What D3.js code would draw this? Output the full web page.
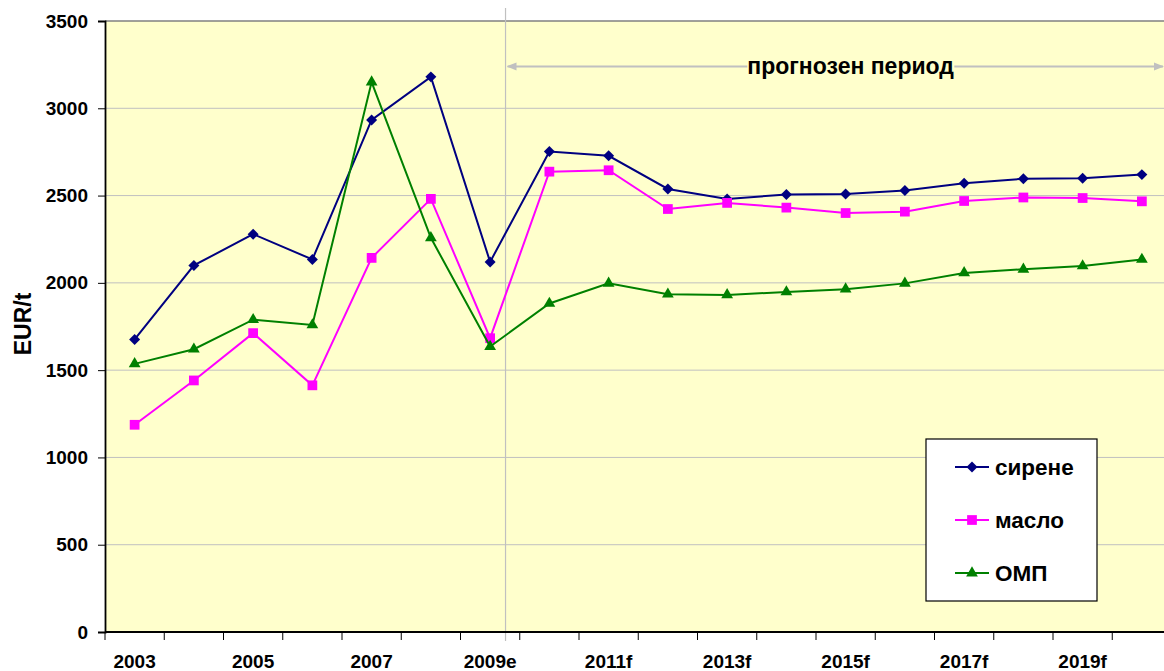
<!DOCTYPE html>
<html>
<head>
<meta charset="utf-8">
<script src="https://cdn.jsdelivr.net/npm/d3@7"></script>
<style>
  body { margin: 0; background: #fff; overflow: hidden; }
  text { font-family: "Liberation Sans", Arial, sans-serif; font-weight: bold; }
</style>
</head>
<body>
<div id="chart"></div>
<script>
// data
const categories = ["2003", "2004", "2005", "2006", "2007", "2008", "2009e", "2010f", "2011f",
  "2012f", "2013f", "2014f", "2015f", "2016f", "2017f", "2018f", "2019f", "2020f"];
const shownLabels = ["2003", "2005", "2007", "2009e", "2011f", "2013f", "2015f", "2017f", "2019f"];

const sirene = [1676, 2100, 2279, 2134, 2933, 3180, 2120, 2752, 2728, 2538, 2481, 2506,
  2509, 2529, 2571, 2596, 2599, 2620];
const maslo = [1187, 1441, 1712, 1413, 2143, 2481, 1683, 2637, 2645, 2423, 2458, 2431,
  2400, 2408, 2469, 2489, 2486, 2467];
const omp = [1536, 1620, 1789, 1759, 3150, 2258, 1635, 1882, 1997, 1935, 1931, 1948,
  1964, 1997, 2057, 2078, 2097, 2134];

const yTicks = [0, 500, 1000, 1500, 2000, 2500, 3000, 3500];
const seriesNames = ["сирене", "масло", "ОМП"];
const forecastLabel = "прогнозен период";

// layout
const width = 1164, height = 671;
const plotLeft = 105, plotTop = 21, plotBottom = 632;
const plotRight = plotLeft + categories.length * 59.25;   // runs past the window edge
const bg = "#FFFFCC";

const svg = d3.select("#chart").append("svg")
  .attr("width", width)
  .attr("height", height);

const x = d3.scaleBand().domain(categories).range([plotLeft, plotRight]);
const y = d3.scaleLinear().domain([0, 3500]).range([plotBottom, plotTop]);

// diamond = square turned 45 degrees
const series = [
  { name: seriesNames[0], values: sirene, color: "#000080", shape: d3.symbolSquare, size: 60, rot: 45 },
  { name: seriesNames[1], values: maslo, color: "#FF00FF", shape: d3.symbolSquare, size: 95, rot: 0 },
  { name: seriesNames[2], values: omp, color: "#008000", shape: d3.symbolTriangle, size: 60, rot: 0 }
];

// plot background
svg.append("rect")
  .attr("x", plotLeft).attr("y", plotTop)
  .attr("width", plotRight - plotLeft).attr("height", plotBottom - plotTop)
  .attr("fill", bg);

// gridlines
svg.append("g")
  .selectAll("line")
  .data(yTicks.filter(d => d > 0 && d < 3500))
  .join("line")
  .attr("x1", plotLeft).attr("x2", plotRight)
  .attr("y1", d => y(d)).attr("y2", d => y(d))
  .attr("stroke", "#C0C0C0")
  .attr("stroke-width", 1);

// top border
svg.append("line")
  .attr("x1", plotLeft).attr("x2", plotRight)
  .attr("y1", y(3500)).attr("y2", y(3500))
  .attr("stroke", "#808080").attr("stroke-width", 1.5);

// forecast separator and arrow
const sepX = x("2009e") + x.bandwidth() * 0.76;
svg.append("line")
  .attr("x1", sepX).attr("x2", sepX)
  .attr("y1", 8).attr("y2", plotBottom + 9)
  .attr("stroke", "#C0C0C0").attr("stroke-width", 1.2);

const defs = svg.append("defs");
defs.append("marker")
  .attr("id", "arr")
  .attr("viewBox", "0 0 10 10")
  .attr("refX", 9).attr("refY", 5)
  .attr("markerWidth", 5).attr("markerHeight", 5)
  .attr("orient", "auto-start-reverse")
  .append("path")
  .attr("d", "M0,1 L10,5 L0,9 Z")
  .attr("fill", "#C0C0C0");

const arrowY = y(3240);
svg.append("line")
  .attr("x1", sepX + 2).attr("x2", width - 1)
  .attr("y1", arrowY).attr("y2", arrowY)
  .attr("stroke", "#C0C0C0").attr("stroke-width", 2)
  .attr("marker-start", "url(#arr)")
  .attr("marker-end", "url(#arr)");

const labelX = x("2015f") + x.bandwidth() / 2 + 5;
const labelBg = svg.append("rect").attr("fill", bg);
const fl = svg.append("text")
  .attr("x", labelX).attr("y", arrowY)
  .attr("dy", "0.35em")
  .attr("text-anchor", "middle")
  .attr("font-size", 23)
  .attr("fill", "#000")
  .text(forecastLabel);
const bb = fl.node().getBBox();
labelBg
  .attr("x", bb.x).attr("y", bb.y)
  .attr("width", bb.width).attr("height", bb.height);

// y axis
const yAxis = svg.append("g")
  .attr("transform", `translate(${plotLeft},0)`)
  .call(d3.axisLeft(y).tickValues(yTicks).tickFormat(d3.format("d"))
    .tickSize(7).tickPadding(10));
yAxis.select(".domain").attr("stroke", "#000").attr("stroke-width", 1.8);
yAxis.selectAll(".tick line").attr("stroke", "#000");
yAxis.selectAll("text")
  .attr("font-size", 19)
  .attr("font-family", "'Liberation Sans', Arial, sans-serif")
  .attr("font-weight", "bold")
  .attr("fill", "#000");

// x axis
const xAxis = svg.append("g")
  .attr("transform", `translate(0,${plotBottom})`)
  .call(d3.axisBottom(x).tickSize(0).tickPadding(23)
    .tickFormat(d => shownLabels.includes(d) ? d : ""));
xAxis.select(".domain").remove();
xAxis.selectAll("text")
  .attr("font-size", 19)
  .attr("font-family", "'Liberation Sans', Arial, sans-serif")
  .attr("font-weight", "bold")
  .attr("fill", "#000");

svg.append("line")
  .attr("x1", plotLeft).attr("x2", plotRight)
  .attr("y1", plotBottom).attr("y2", plotBottom)
  .attr("stroke", "#000").attr("stroke-width", 1.8);

svg.append("g")
  .selectAll("line")
  .data(categories.map(c => x(c)).concat([plotRight]))
  .join("line")
  .attr("x1", d => d).attr("x2", d => d)
  .attr("y1", plotBottom).attr("y2", plotBottom + 8)
  .attr("stroke", "#000");

// axis title
svg.append("text")
  .attr("transform", "translate(31,324) rotate(-90)")
  .attr("text-anchor", "middle")
  .attr("font-size", 23)
  .text("EUR/t");

// lines and markers
const line = d3.line()
  .x((d, i) => x(categories[i]) + x.bandwidth() / 2)
  .y(d => y(d));

series.forEach(s => {
  svg.append("path")
    .datum(s.values)
    .attr("d", line)
    .attr("fill", "none")
    .attr("stroke", s.color)
    .attr("stroke-width", 2);

  svg.append("g")
    .selectAll("path")
    .data(s.values)
    .join("path")
    .attr("transform", (d, i) =>
      `translate(${x(categories[i]) + x.bandwidth() / 2},${y(d)}) rotate(${s.rot})`)
    .attr("d", d3.symbol().type(s.shape).size(s.size))
    .attr("fill", s.color);
});

// legend
const legend = svg.append("g").attr("transform", "translate(926,439)");
legend.append("rect")
  .attr("width", 171).attr("height", 162)
  .attr("fill", "#fff")
  .attr("stroke", "#000").attr("stroke-width", 1.2);

const rows = legend.selectAll("g.row")
  .data(series)
  .join("g")
  .attr("class", "row")
  .attr("transform", (d, i) => `translate(0,${28 + i * 53})`);

rows.append("line")
  .attr("x1", 29).attr("x2", 63)
  .attr("stroke", d => d.color).attr("stroke-width", 2);
rows.append("path")
  .attr("transform", d => `translate(46,0) rotate(${d.rot})`)
  .attr("d", d => d3.symbol().type(d.shape).size(d.size)())
  .attr("fill", d => d.color);
rows.append("text")
  .attr("x", 69)
  .attr("dy", "0.35em")
  .attr("font-size", 22.5)
  .text(d => d.name);
</script>
</body>
</html>
